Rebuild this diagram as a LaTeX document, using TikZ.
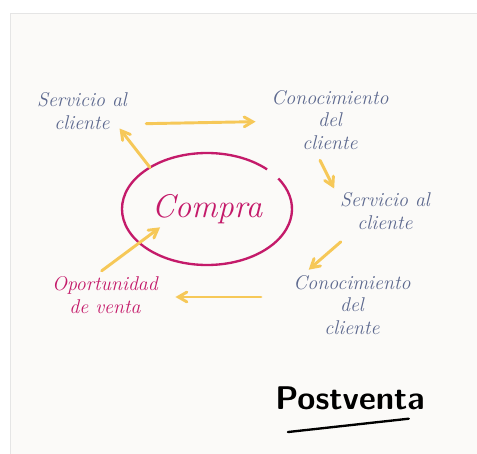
\documentclass[tikz,border=0pt]{standalone}
\usepackage{tikz}
\usetikzlibrary{shapes,arrows}
\usetikzlibrary{calc}
\definecolor{penblue}{RGB}{92,104,142}
\definecolor{penmagenta}{RGB}{196,26,106}
\definecolor{penyellow}{RGB}{246,200,88}
\definecolor{paper}{RGB}{251,250,248}

\begin{document}
\begin{tikzpicture}

\tikzstyle{note} = [text=penblue, font=\fontsize{17}{19}\selectfont\itshape, align=center, inner sep=2]
\tikzstyle{pink_note} = [note, text=penmagenta]
\tikzstyle{big_oval} = [ellipse, inner sep=0, minimum width=5.1cm, minimum height=3.36cm,
text=penmagenta, font=\fontsize{28}{32}\selectfont\itshape]
\tikzstyle{yarrow} = [-angle 60, line width=2.5, draw=penyellow, line cap=round]

% paper
\useasboundingbox (0,0) rectangle (14.31,13.62);
\fill[white] (0,0) rectangle (14.31,13.62);
\fill[paper] (0.3,0) rectangle (14.31,13.23);
\draw[black!10] (0.3,0) -- (0.3,13.23) -- (14.31,13.23);

\node [note] (serv1) at (2.46,10.29) {Servicio al\\cliente};
\node [note] (cono1) at (9.9,10.02) {Conocimiento\\del\\cliente};
\node [note] (serv2) at (11.55,7.29) {Servicio al\\cliente};
\node [note] (cono2) at (10.56,4.47) {Conocimiento\\del\\cliente};
\node [pink_note] (oport) at (3.15,4.77) {Oportunidad\\de venta};

\node [big_oval] (compra) at (6.21,7.35) {Compra};
% oval, left open at the upper right
\draw[penmagenta, line width=2] (compra.center) ++(45:2.55 and 1.68)
  arc[start angle=45, end angle=393, x radius=2.55, y radius=1.68];

\node [font=\sffamily\bfseries\fontsize{28}{32}\selectfont] (post) at (10.5,1.68) {Postventa};
\draw[line width=2, line cap=round] ($(post.south west)+(0.5,-0.55)$) -- ($(post.south east)+(-0.6,-0.15)$);

\draw[yarrow] ($(serv1.east)+(0.5,-0.38)$) -- ($(cono1.west)+(-0.4,-0.05)$);
\draw[yarrow] ($(cono1.south)+(-0.3,-0.25)$) -- ($(serv2.north west)+(-0.1,0.05)$);
\draw[yarrow] ($(serv2.south west)+(0.1,-0.3)$) -- ($(cono2.north)+(-1.3,0.1)$);
\draw[yarrow] ($(cono2.west)+(-0.9,0.24)$) -- ($(oport.east)+(0.45,-0.06)$);
\draw[yarrow] ($(oport.north)+(-0.1,0.1)$) -- ($(compra.west)+(1.15,-0.55)$);
\draw[yarrow] ($(compra.north west)+(0.1,0.05)$) -- ($(serv1.south east)+(-0.3,0.1)$);

\end{tikzpicture}
\end{document}
